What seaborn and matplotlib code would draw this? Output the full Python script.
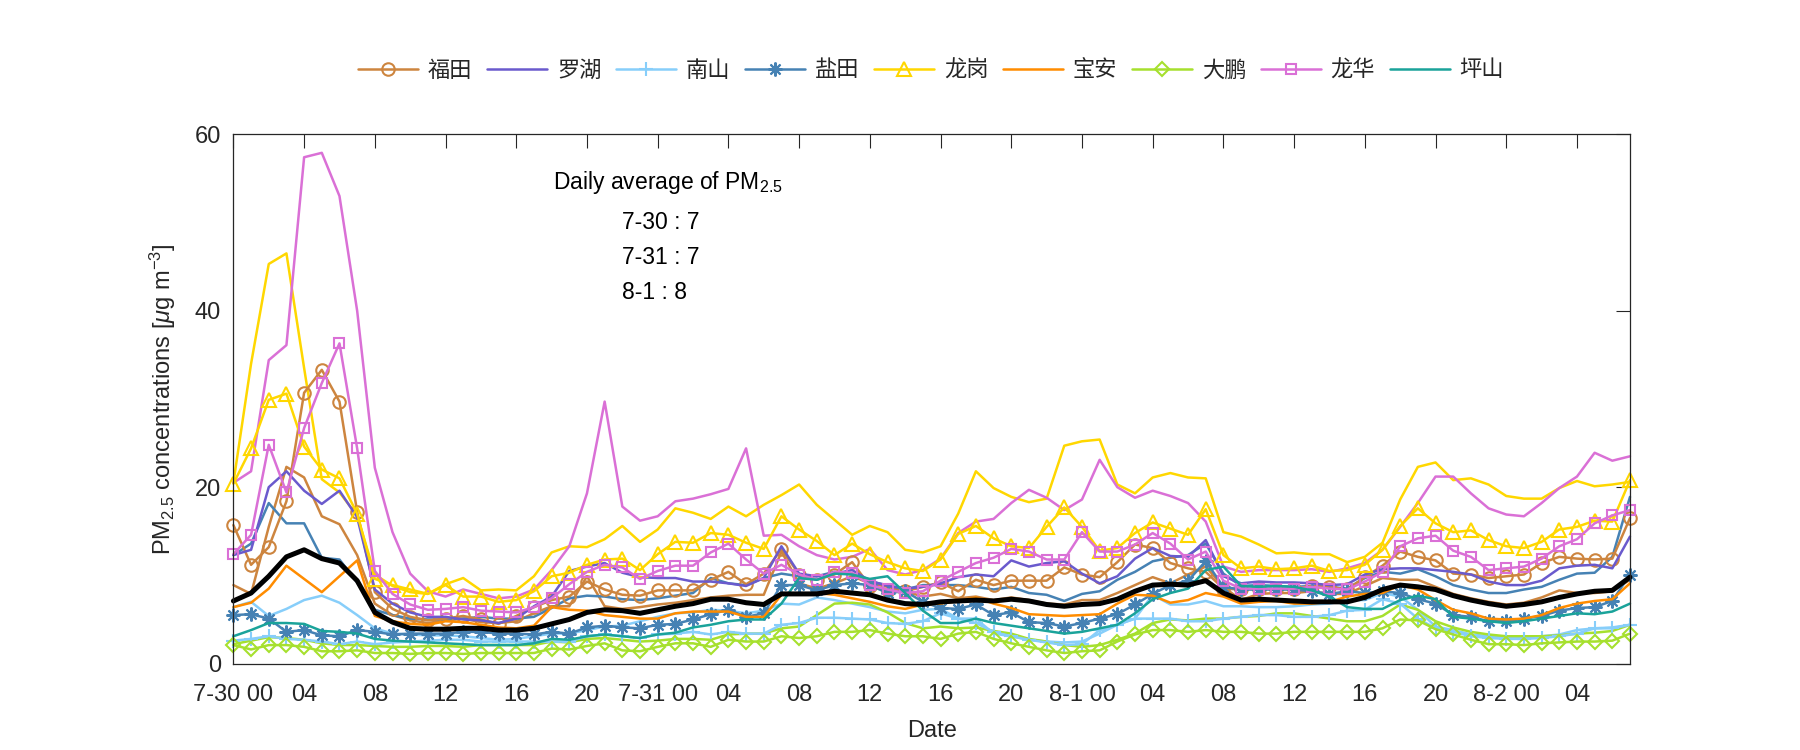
import matplotlib
matplotlib.use("Agg")
import matplotlib.pyplot as plt
import matplotlib.lines as mlines
import numpy as np
import pandas as pd
import seaborn as sns

# hourly PM2.5, 7-30 00:00 .. 8-2 07:00 (80 values each)
hours = np.arange(80)

# legend stations (marker / plain style as in the source)
futian = [15.7, 11.2, 13.2, 18.4, 30.7, 33.3, 29.7, 17.2, 8.1, 6.2,
          5.3, 4.9, 5.1, 5.4, 5.0, 4.5, 5.4, 6.4, 7.2, 7.6,
          9.3, 8.4, 7.8, 7.7, 8.3, 8.3, 8.3, 9.5, 10.4, 9.0,
          10.2, 13.0, 10.1, 9.5, 10.1, 11.5, 8.8, 8.3, 8.2, 8.7,
          9.2, 8.2, 9.5, 8.9, 9.4, 9.4, 9.4, 10.9, 10.1, 9.8,
          11.5, 13.5, 13.1, 11.4, 10.8, 10.4, 8.5, 8.4, 8.5, 8.4,
          8.5, 8.8, 8.7, 8.4, 9.8, 11.1, 12.7, 12.1, 11.7, 10.2,
          10.1, 9.7, 9.9, 10.1, 11.4, 12.1, 11.9, 11.8, 11.9, 16.5]
luohu = [12.3, 12.9, 20.0, 21.8, 19.6, 18.1, 19.6, 16.6, 8.4, 6.8,
         5.8, 5.3, 5.3, 5.0, 4.9, 4.6, 5.1, 6.5, 7.6, 10.5,
         11.0, 11.4, 10.3, 9.8, 9.7, 9.7, 9.3, 9.3, 9.1, 8.8,
         9.7, 13.3, 10.2, 9.9, 10.2, 10.6, 9.4, 8.8, 8.5, 8.7,
         9.1, 9.8, 10.1, 9.9, 11.7, 11.0, 11.4, 11.6, 10.2, 9.1,
         9.9, 11.9, 13.1, 12.2, 12.1, 14.0, 9.9, 9.1, 9.3, 9.2,
         9.2, 9.1, 8.9, 9.0, 10.1, 10.7, 10.8, 10.8, 10.6, 10.4,
         10.1, 9.3, 8.9, 8.9, 9.4, 10.8, 11.1, 11.2, 10.8, 14.4]
nanshan = [2.6, 2.8, 3.1, 2.8, 2.7, 2.5, 2.2, 2.5, 2.2, 2.4,
           2.5, 2.6, 2.7, 2.7, 2.5, 2.5, 2.5, 2.5, 2.5, 2.5,
           3.1, 3.3, 3.1, 2.9, 3.3, 3.4, 3.6, 3.3, 3.6, 3.4,
           3.4, 4.4, 4.6, 5.2, 5.2, 5.1, 5.0, 4.6, 4.5, 4.8,
           5.7, 5.1, 4.6, 3.6, 3.1, 2.7, 2.4, 2.1, 2.2, 3.8,
           4.4, 5.1, 5.1, 5.1, 4.8, 4.8, 5.1, 5.3, 5.5, 5.5,
           5.3, 5.3, 5.5, 6.0, 6.1, 7.3, 6.8, 5.1, 4.0, 3.6,
           3.1, 2.9, 2.8, 2.8, 2.9, 3.1, 3.4, 4.0, 4.0, 4.4]
yantian = [5.5, 5.6, 5.1, 3.6, 3.8, 3.2, 3.1, 3.8, 3.6, 3.3,
           3.4, 3.4, 3.4, 3.6, 3.6, 3.4, 3.4, 3.3, 3.6, 3.4,
           4.1, 4.3, 4.1, 4.0, 4.4, 4.5, 5.0, 5.6, 6.1, 5.3,
           5.7, 8.9, 8.9, 8.3, 8.9, 9.1, 8.9, 8.0, 8.2, 7.0,
           6.3, 6.2, 6.7, 5.5, 5.8, 4.7, 4.6, 4.2, 4.6, 5.1,
           5.6, 6.7, 7.9, 8.9, 9.4, 11.6, 8.7, 8.4, 8.4, 8.4,
           8.4, 8.2, 7.9, 8.2, 8.0, 8.2, 8.0, 7.3, 6.8, 5.5,
           5.3, 4.8, 4.8, 5.1, 5.4, 6.0, 6.3, 6.4, 7.1, 10.1]
longgang = [20.4, 24.4, 29.9, 30.6, 24.6, 22.0, 21.0, 17.0, 9.6, 8.9,
            8.4, 7.9, 8.9, 7.6, 7.6, 7.0, 7.2, 8.2, 9.9, 10.3,
            11.2, 11.8, 11.9, 10.6, 12.4, 13.8, 13.7, 14.8, 14.6, 13.7,
            13.0, 16.7, 15.2, 13.9, 12.3, 13.6, 12.4, 11.5, 10.8, 10.5,
            11.8, 14.7, 15.6, 14.2, 13.3, 13.1, 15.5, 17.7, 15.5, 12.8,
            13.1, 14.8, 16.0, 15.3, 14.6, 17.5, 12.3, 10.8, 11.0, 10.7,
            10.8, 11.1, 10.5, 10.6, 11.2, 12.9, 15.6, 17.6, 15.9, 14.9,
            15.1, 14.0, 13.3, 13.1, 13.8, 15.2, 15.5, 16.2, 16.1, 20.8]
baoan = [6.4, 6.9, 8.5, 11.1, 9.6, 8.1, 9.9, 11.7, 5.4, 4.8,
         4.5, 4.4, 4.8, 4.7, 4.4, 4.1, 4.0, 4.3, 6.4, 6.1,
         6.0, 5.5, 5.3, 5.1, 5.1, 5.7, 5.9, 5.9, 5.9, 5.3,
         5.3, 7.8, 7.9, 8.0, 7.8, 7.4, 7.0, 6.5, 6.2, 6.7,
         6.8, 7.1, 7.5, 6.8, 6.3, 5.6, 5.5, 5.4, 5.5, 5.6,
         6.8, 7.8, 7.7, 6.9, 7.2, 8.0, 7.6, 6.8, 7.0, 7.1,
         6.8, 6.8, 7.0, 7.6, 7.9, 8.0, 8.9, 8.4, 7.2, 6.1,
         5.7, 5.1, 5.0, 5.1, 5.5, 6.3, 6.8, 7.1, 7.3, 9.1]
dapeng = [2.1, 1.6, 2.1, 2.1, 1.9, 1.4, 1.4, 1.5, 1.2, 1.2,
          1.1, 1.2, 1.2, 1.1, 1.2, 1.2, 1.2, 1.2, 1.7, 1.6,
          2.0, 2.3, 1.5, 1.4, 1.9, 2.3, 2.3, 1.9, 2.7, 2.5,
          2.5, 3.1, 2.9, 3.1, 3.6, 3.6, 3.8, 3.4, 3.1, 3.1,
          2.8, 3.4, 3.6, 2.8, 2.3, 1.9, 1.5, 1.2, 1.4, 1.5,
          2.5, 3.3, 3.8, 3.8, 3.6, 3.8, 3.6, 3.6, 3.4, 3.4,
          3.6, 3.6, 3.6, 3.6, 3.6, 4.0, 5.0, 4.9, 3.9, 3.3,
          2.7, 2.2, 2.2, 2.1, 2.3, 2.4, 2.5, 2.5, 2.6, 3.4]
longhua = [12.4, 14.6, 24.8, 19.4, 26.7, 31.8, 36.3, 24.4, 10.5, 7.9,
           6.7, 6.1, 6.2, 6.4, 6.0, 5.9, 5.8, 6.4, 7.4, 9.0,
           10.4, 11.2, 10.9, 9.6, 10.5, 11.1, 11.1, 12.6, 13.6, 11.8,
           10.2, 11.2, 10.1, 9.5, 10.4, 10.3, 8.9, 8.4, 8.0, 8.2,
           9.4, 10.4, 11.4, 12.0, 13.0, 12.7, 11.8, 11.8, 14.9, 12.7,
           12.7, 13.5, 14.8, 13.6, 11.8, 12.7, 9.4, 8.5, 8.5, 8.5,
           8.5, 8.7, 8.5, 8.4, 9.3, 10.4, 13.3, 14.2, 14.5, 12.8,
           12.1, 10.6, 10.8, 11.0, 11.9, 13.3, 14.1, 15.9, 16.8, 17.4]
pingshan = [3.1, 3.8, 4.6, 4.6, 4.5, 3.7, 3.6, 3.4, 2.8, 2.6,
            2.5, 2.4, 2.3, 2.2, 2.1, 2.1, 2.1, 2.3, 2.8, 2.7,
            3.1, 3.3, 3.1, 2.9, 3.3, 3.5, 4.1, 4.4, 4.8, 5.0,
            5.0, 6.8, 9.7, 9.5, 10.2, 10.1, 9.6, 9.9, 8.0, 6.0,
            4.6, 4.6, 5.1, 4.6, 4.3, 4.0, 3.7, 3.4, 3.6, 4.0,
            4.4, 5.7, 7.3, 8.0, 8.5, 10.6, 11.0, 8.8, 8.7, 8.8,
            8.7, 8.3, 7.6, 6.4, 6.2, 6.2, 7.2, 7.7, 7.3, 5.3,
            5.1, 4.8, 4.6, 4.8, 5.1, 5.4, 5.7, 5.6, 5.9, 6.8]

# second (plain) curves of the marker stations
futian_2 = [8.9, 7.9, 15.5, 22.3, 21.1, 16.7, 15.8, 12.3, 6.8, 5.5,
            4.9, 4.6, 4.9, 5.1, 4.7, 4.6, 4.8, 5.7, 6.5, 6.5,
            9.9, 6.5, 6.2, 6.4, 6.7, 6.9, 7.2, 7.5, 7.7, 7.8,
            7.8, 12.7, 9.1, 8.5, 9.1, 9.9, 9.1, 8.7, 8.2, 7.6,
            7.9, 7.4, 7.6, 7.2, 7.5, 7.2, 6.8, 6.7, 7.2, 7.2,
            8.0, 8.9, 9.8, 9.1, 10.1, 11.0, 8.7, 7.2, 7.9, 8.0,
            8.0, 8.2, 7.9, 7.9, 8.8, 9.7, 9.5, 9.5, 8.7, 7.9,
            7.4, 7.0, 6.7, 6.9, 7.5, 8.3, 8.0, 8.0, 8.2, 9.5]
nanshan_2 = [6.4, 7.0, 5.4, 6.2, 7.2, 7.7, 6.9, 5.5, 4.0, 3.4,
             3.3, 3.2, 3.2, 3.1, 2.9, 2.7, 2.8, 3.1, 3.4, 3.4,
             3.8, 4.2, 4.3, 4.8, 5.3, 5.7, 5.8, 6.1, 6.0, 5.7,
             6.0, 6.8, 6.7, 7.5, 7.2, 6.8, 6.4, 5.9, 5.7, 6.1,
             6.2, 5.1, 5.1, 3.4, 3.1, 2.7, 2.5, 2.4, 2.5, 3.4,
             4.4, 5.1, 7.8, 6.7, 6.7, 7.1, 6.5, 6.5, 6.4, 6.4,
             6.5, 6.7, 6.8, 7.2, 7.2, 8.0, 7.6, 6.1, 4.2, 3.8,
             3.3, 3.1, 2.9, 2.9, 3.1, 3.3, 3.8, 4.0, 4.1, 4.4]
yantian_2 = [12.3, 13.6, 18.2, 15.9, 15.9, 12.0, 11.8, 9.2, 6.1, 5.5,
             5.1, 5.0, 5.0, 5.1, 5.3, 5.1, 5.1, 5.3, 6.3, 7.4,
             7.7, 7.6, 7.3, 7.2, 7.4, 7.7, 8.0, 9.7, 9.1, 8.9,
             9.7, 10.2, 9.9, 9.9, 10.4, 10.1, 9.3, 8.9, 8.4, 8.9,
             8.9, 8.9, 8.7, 8.4, 8.7, 8.0, 7.8, 7.1, 7.9, 8.2,
             9.5, 10.4, 11.6, 12.0, 12.3, 13.6, 10.2, 8.8, 8.9, 8.8,
             8.7, 8.8, 8.7, 8.5, 9.7, 10.4, 10.2, 10.7, 9.9, 8.9,
             8.4, 8.0, 8.0, 8.4, 8.7, 9.5, 10.2, 10.3, 12.1, 18.9]
longgang_2 = [20.5, 34.0, 45.3, 46.5, 33.5, 20.9, 19.4, 16.8, 10.1, 8.8,
              8.1, 7.9, 9.0, 9.7, 8.3, 8.4, 8.3, 9.9, 12.6, 13.3,
              13.2, 14.1, 15.6, 13.8, 15.2, 17.6, 17.1, 16.4, 17.8, 16.7,
              18.0, 19.1, 20.3, 18.0, 16.3, 14.6, 15.6, 14.9, 12.9, 12.6,
              13.3, 17.0, 21.8, 19.9, 18.9, 18.3, 18.7, 24.7, 25.2, 25.4,
              20.3, 19.3, 21.1, 21.6, 21.1, 21.0, 14.9, 14.4, 13.5, 12.5,
              12.6, 12.4, 12.4, 11.5, 12.1, 13.7, 18.6, 22.3, 22.8, 20.8,
              21.0, 20.3, 19.0, 18.7, 18.7, 19.9, 20.7, 20.1, 20.3, 20.6]
dapeng_2 = [2.2, 2.6, 3.0, 2.9, 2.7, 2.3, 2.1, 2.1, 2.0, 1.9,
            1.9, 2.0, 2.0, 1.9, 2.1, 2.1, 2.1, 2.1, 2.5, 2.4,
            2.8, 2.9, 2.7, 2.5, 2.6, 2.8, 2.8, 2.7, 3.3, 3.4,
            3.4, 4.0, 4.2, 5.5, 6.8, 6.9, 6.7, 5.8, 4.6, 4.0,
            4.2, 4.0, 4.1, 3.7, 3.4, 2.8, 2.5, 2.1, 1.9, 2.1,
            2.7, 3.4, 4.6, 5.0, 4.9, 5.1, 5.1, 5.3, 5.4, 5.7,
            5.7, 5.4, 5.1, 4.8, 4.8, 5.4, 6.7, 6.1, 4.8, 4.1,
            3.6, 3.3, 3.1, 3.1, 3.1, 3.2, 3.4, 3.5, 3.7, 4.4]
longhua_2 = [20.5, 21.8, 34.4, 36.1, 57.4, 57.9, 53.0, 40.0, 22.2, 14.9,
             10.2, 8.2, 7.6, 8.4, 7.9, 7.4, 7.6, 8.4, 10.6, 13.3,
             19.3, 29.7, 17.8, 16.2, 16.7, 18.4, 18.7, 19.2, 19.8, 24.4,
             14.5, 14.6, 13.3, 12.3, 11.8, 12.1, 13.0, 10.6, 10.1, 10.6,
             11.9, 14.8, 16.1, 16.4, 18.2, 19.7, 18.8, 17.4, 18.6, 23.1,
             20.0, 18.8, 19.6, 19.0, 18.2, 16.1, 11.0, 10.4, 10.6, 10.6,
             10.6, 10.7, 10.4, 10.8, 11.4, 12.9, 15.5, 18.2, 21.2, 21.2,
             19.3, 17.6, 16.9, 16.7, 18.2, 19.9, 21.2, 23.9, 23.0, 23.5]

# city average (thick black)
city_mean = [7.1, 8.0, 9.9, 12.1, 12.9, 11.9, 11.4, 9.4, 5.8, 4.7,
             4.0, 3.9, 3.9, 4.0, 4.0, 3.8, 3.8, 4.0, 4.5, 5.0,
             5.8, 6.1, 6.0, 5.7, 6.1, 6.5, 6.8, 7.3, 7.3, 6.9,
             6.7, 7.9, 7.9, 7.9, 8.2, 8.0, 7.8, 7.2, 6.8, 6.7,
             7.0, 7.1, 7.2, 7.1, 7.3, 7.1, 6.7, 6.5, 6.7, 6.8,
             7.3, 8.2, 8.9, 9.0, 8.9, 9.4, 8.0, 7.2, 7.3, 7.2,
             7.1, 7.0, 7.0, 7.0, 7.5, 8.4, 8.9, 8.7, 8.4, 7.7,
             7.2, 6.8, 6.5, 6.7, 7.0, 7.5, 7.9, 8.2, 8.3, 9.8]

tick_labels = ["7-30 00", "04", "08", "12", "16", "20",
               "7-31 00", "04", "08", "12", "16", "20",
               "8-1 00", "04", "08", "12", "16", "20",
               "8-2 00", "04"]
daily_text = ["7-30 : 7", "7-31 : 7", "8-1 : 8"]

# name, values, color, marker, marker size
stations = [
    ("福田", futian, "#CD853F", "o", 9),
    ("罗湖", luohu, "#6A5ACD", None, 0),
    ("南山", nanshan, "#87CEFA", "+", 10),
    ("盐田", yantian, "#4682B4", (8, 2, 0), 10),
    ("龙岗", longgang, "#FFD700", "^", 10),
    ("宝安", baoan, "#FF8C00", None, 0),
    ("大鹏", dapeng, "#A6E02E", "D", 7.5),
    ("龙华", longhua, "#DA70D6", "s", 7),
    ("坪山", pingshan, "#1AA39A", None, 0),
]
extras = [
    (futian_2, "#CD853F"), (nanshan_2, "#87CEFA"), (yantian_2, "#4682B4"),
    (longgang_2, "#FFD700"), (dapeng_2, "#A6E02E"), (longhua_2, "#DA70D6"),
]

sns.set_style("white")
FONTS = ["Liberation Sans", "Noto Sans CJK SC", "DejaVu Sans"]
plt.rcParams["font.family"] = FONTS
plt.rcParams["mathtext.fontset"] = "custom"
plt.rcParams["mathtext.rm"] = "Liberation Sans"
plt.rcParams["mathtext.it"] = "Liberation Sans:italic"

LW = 1.8
fig = plt.figure(figsize=(18, 7.5), dpi=100)
ax = fig.add_axes([233.4 / 1800, 1 - 663.6 / 750, 1396.6 / 1800, 529.3 / 750])

for vals, col in extras:
    sns.lineplot(x=hours, y=vals, color=col, linewidth=LW, ax=ax,
                 legend=False, errorbar=None)

for name, vals, col, mk, ms in stations:
    kw = {}
    if mk is not None:
        kw = dict(marker=mk, markersize=ms, markerfacecolor="none",
                  markeredgecolor=col, markeredgewidth=1.5)
    sns.lineplot(x=hours, y=vals, color=col, linewidth=LW, ax=ax,
                 legend=False, errorbar=None, **kw)

sns.lineplot(x=hours, y=city_mean, color="black", linewidth=3.6, ax=ax,
             legend=False, errorbar=None)

for ln in ax.lines:
    ln.set_clip_on(False)

ax.set_xlim(0, 79)
ax.set_ylim(0, 60)
ax.set_xticks(np.arange(0, 80, 4))
ax.set_xticklabels(tick_labels)
ax.set_yticks([0, 20, 40, 60])
ax.tick_params(axis="both", direction="in", length=10, width=0.8,
               top=True, right=True, labelsize=17, colors="#262626")
ax.tick_params(axis="x", pad=15)
ax.tick_params(axis="y", pad=9)
for sp in ax.spines.values():
    sp.set_color("#262626")
    sp.set_linewidth(0.9)

ax.set_xlabel("Date", fontsize=17, color="#262626", labelpad=10)
ax.set_ylabel(r"PM$_{2.5}$ concentrations [$\mu$g m$^{-3}$]", fontsize=17,
              color="#262626", labelpad=12)

ax.text(0.229, 0.908, r"Daily average of PM$_{2.5}$", transform=ax.transAxes,
        fontsize=16.5, va="center", ha="left", color="black")
for i, t in enumerate(daily_text):
    ax.text(0.278, 0.834 - i * 0.066, t, transform=ax.transAxes,
            fontsize=16.5, va="center", ha="left", color="black")

handles = []
for name, vals, col, mk, ms in stations:
    handles.append(mlines.Line2D([], [], color=col, linewidth=LW,
                                 marker=mk if mk is not None else None,
                                 markersize=ms, markerfacecolor="none",
                                 markeredgecolor=col, markeredgewidth=1.5,
                                 label=name))
fig.legend(handles=handles, loc="center", ncol=9, frameon=False,
           bbox_to_anchor=(931 / 1800, 1 - 70 / 750),
           prop={"family": ["Noto Sans CJK SC", "DejaVu Sans"], "size": 16},
           handlelength=2.7, handletextpad=0.45, columnspacing=0.65)

fig.savefig("out.png", dpi=100)
